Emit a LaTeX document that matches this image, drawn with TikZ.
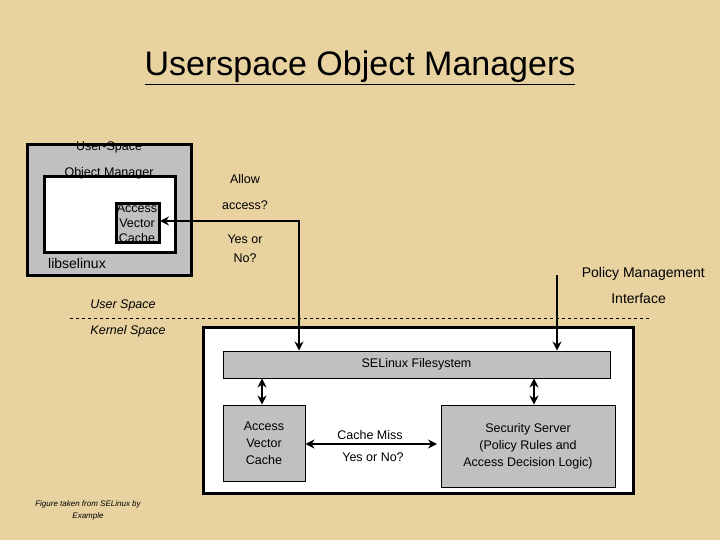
\documentclass[tikz,border=0pt]{standalone}
\usepackage{fontspec}
\setmainfont{Liberation Sans}
\usetikzlibrary{arrows.meta}
\definecolor{bg}{RGB}{232,210,160}
\definecolor{gr}{RGB}{192,192,192}
\begin{document}
\begin{tikzpicture}[x=1pt,y=-1pt,
 box/.style={draw=black,line width=1pt,fill=gr},
 heavy/.style={draw=black,line width=3pt},
 lbl/.style={font=\fontsize{12.5}{14}\selectfont,inner sep=0pt},
 arr/.style={line width=1.8pt,-{Stealth[length=9pt,width=9pt]}},
 darr/.style={line width=1.8pt,{Stealth[length=9pt,width=9pt]}-{Stealth[length=9pt,width=9pt]}}]
\fill[bg] (0,0) rectangle (720,540);
\useasboundingbox (0,0) rectangle (720,540);
\node[font=\fontsize{34}{38}\selectfont,inner sep=0pt] (title) at (360,68) {\underline{Userspace Object Managers}};
% user space
\path[heavy,fill=gr] (27,145) rectangle (191,275);
\path[heavy,fill=white] (44,177) rectangle (175,252);
\path[heavy,fill=gr] (116,204) rectangle (159,242);
\node[coordinate] (uavc) at (160,221) {};
\node[lbl] (us) at (109,147) {User-Space};
\node[lbl] (om) at (109,173) {Object Manager};
\node[lbl,align=center] (avcu) at (137,223) {Access\\[1pt]Vector\\[1pt]Cache};
\node[lbl,font=\fontsize{14}{16}\selectfont] (lib) at (77,263) {libselinux};
\node[lbl] (allow) at (245,179) {Allow};
\node[lbl] (acc) at (245,205) {access?};
\node[lbl] (yes) at (245,239) {Yes or};
\node[lbl] (no) at (245,258) {No?};
\node[lbl,font=\fontsize{14}{16}\selectfont,anchor=east] (pm) at (705,274) {Policy Management};
\node[lbl,font=\fontsize{14}{16}\selectfont,anchor=east] (pmi) at (666,299) {Interface};
\node[lbl,font=\itshape\fontsize{12.5}{14}\selectfont] (usp) at (123,305) {User Space};
\node[lbl,font=\itshape\fontsize{12.5}{14}\selectfont] (ksp) at (128,331) {Kernel Space};
\draw[dashed,line width=0.6pt] (70,318) -- (650,318);
% kernel
\path[heavy,fill=white] (203,327) rectangle (633,493);
\node[box,minimum width=387,minimum height=27,lbl] (fs) at (416.5,364.5) {SELinux Filesystem};
\node[box,minimum width=82,minimum height=76,lbl,align=center] (kavc) at (264,443) {Access\\[3pt]Vector\\[3pt]Cache};
\node[box,minimum width=174,minimum height=82,lbl,align=center] (ss) at (528,446) {Security Server\\[3pt](Policy Rules and\\[3pt]Access Decision Logic)};
\coordinate (t1) at (299,275);
\draw[darr] (fs.north -| t1) -- (299,221) -- (uavc);
\coordinate (pmtop) at (557,275);
\draw[arr] (pmtop) -- (fs.north -| pmtop);
\draw[darr] (fs.south -| 262,0) -- (kavc.north -| 262,0);
\draw[darr] (fs.south -| 534,0) -- (ss.north -| 534,0);
\draw[darr] (kavc.east |- 0,444) -- (437,444);
\node[lbl] (cm) at (370,435) {Cache Miss};
\node[lbl] (yn) at (373,457) {Yes or No?};
\node[lbl,font=\itshape\fontsize{8}{10}\selectfont,align=center] (fig) at (88,510) {Figure taken from SELinux by\\[2pt]Example};
\end{tikzpicture}
\end{document}
